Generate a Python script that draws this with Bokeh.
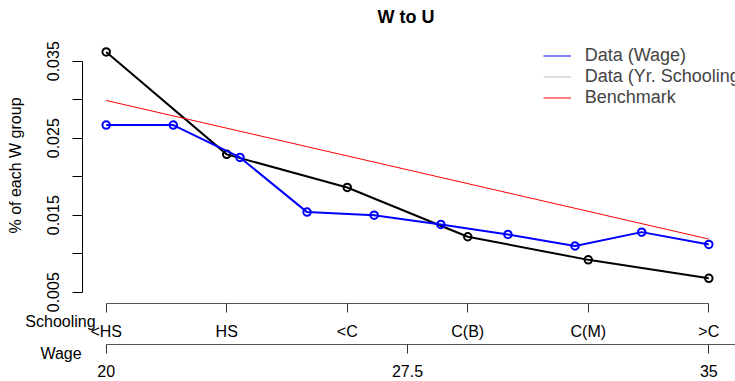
from bokeh.plotting import figure
from bokeh.models import (LinearAxis, FixedTicker, Range1d, Legend, LegendItem, Label)
from bokeh.embed import file_html
from bokeh.resources import INLINE

# ---------------- data ----------------
schooling_levels = ["<HS", "HS", "<C", "C(B)", "C(M)", ">C"]
schooling_pos = [20, 23, 26, 29, 32, 35]          # where each level sits on the wage scale
schooling_share = [0.0362, 0.0229, 0.0186, 0.0122, 0.0092, 0.0068]

wage = [20, 21.67, 23.33, 25, 26.67, 28.33, 30, 31.67, 33.33, 35]
wage_share = [0.0267, 0.0267, 0.0225, 0.0154, 0.0150, 0.0138, 0.0125, 0.0110, 0.0128, 0.0112]

bench_wage = [20, 35]
bench_share = [0.0299, 0.0119]

wage_ticks = [20, 27.5, 35]
wage_tick_labels = ["20", "27.5", "35"]
y_ticks = [0.005, 0.010, 0.015, 0.020, 0.025, 0.030, 0.035]
y_tick_labels = ["0.005", "", "0.015", "", "0.025", "", "0.035"]

FONT = "Liberation Sans"

# ---------------- layout geometry (pixels) ----------------
W, H, TOP = 735, 381, 30            # plotting frame spans the canvas below the title
XA_PX, XB_PX = 105.7, 708.3          # pixel columns of wage 20 and wage 35
YA_PX, YB_PX = 291.7, 60.7           # pixel rows of share 0.005 and 0.035
xs = (XB_PX - XA_PX) / (wage_ticks[-1] - wage_ticks[0])
ys = (YA_PX - YB_PX) / (y_ticks[-1] - y_ticks[0])


def px2x(px):
    return wage_ticks[0] + (px - XA_PX) / xs


def py2y(py):
    return y_ticks[0] + (YA_PX - py) / ys


p = figure(width=W, height=H, output_backend="svg", toolbar_location=None,
           x_range=Range1d(px2x(0), px2x(W)), y_range=Range1d(py2y(H), py2y(TOP)),
           x_axis_location=None, y_axis_location=None,
           min_border_left=0, min_border_right=0, min_border_top=TOP,
           min_border_bottom=0, title="W to U")
p.grid.visible = False
p.outline_line_color = None
p.background_fill_color = "white"
p.border_fill_color = "white"

p.title.text_font = FONT
p.title.text_font_size = "18px"
p.title.text_font_style = "bold"
p.title.align = "left"
p.title.offset = 377
p.title.standoff = 8
p.title.text_color = "black"

# ---------------- axes ----------------
yax = LinearAxis(ticker=FixedTicker(ticks=y_ticks),
                 major_label_overrides={t: l for t, l in zip(y_ticks, y_tick_labels)},
                 bounds=(y_ticks[0], y_ticks[-1]),
                 fixed_location=px2x(81.7))
yax.major_label_orientation = "vertical"
yax.minor_tick_line_color = None
yax.major_tick_in = 0
yax.major_tick_out = 10
yax.major_label_standoff = 13
yax.axis_line_color = "black"
yax.major_tick_line_color = "black"
yax.major_label_text_font = FONT
yax.major_label_text_font_size = "16px"
yax.major_label_text_color = "black"
p.add_layout(yax, "left")

sax = LinearAxis(ticker=FixedTicker(ticks=schooling_pos),
                 major_label_overrides={t: l for t, l in zip(schooling_pos, schooling_levels)},
                 bounds=(schooling_pos[0], schooling_pos[-1]),
                 fixed_location=py2y(302.5))
wax = LinearAxis(ticker=FixedTicker(ticks=wage_ticks),
                 major_label_overrides={t: l for t, l in zip(wage_ticks, wage_tick_labels)},
                 bounds=(wage_ticks[0], px2x(W + 20)),
                 fixed_location=py2y(343.5))
for ax, standoff in ((sax, 11), (wax, 12)):
    ax.minor_tick_line_color = None
    ax.major_tick_in = 0
    ax.major_tick_out = 9
    ax.major_label_standoff = standoff
    ax.axis_line_color = "#555555"
    ax.major_tick_line_color = "#333333"
    ax.major_label_text_font = FONT
    ax.major_label_text_font_size = "16px"
    ax.major_label_text_color = "black"
    p.add_layout(ax, "below")

# y-axis title (rotated) and the axis names beside each bottom axis
p.add_layout(Label(x=px2x(15.3), y=py2y(165), text="% of each W group",
                   angle=90, angle_units="deg", text_align="center", text_baseline="middle",
                   text_font=FONT, text_font_size="16px", text_color="black"))
for txt, cx, base in (("Schooling", 60, 321), ("Wage", 60.5, 353)):
    p.add_layout(Label(x=px2x(cx), y=py2y(base), text=txt,
                       text_align="center", text_baseline="alphabetic",
                       text_font=FONT, text_font_size="16px", text_color="black"))

# ---------------- data marks ----------------
p.line(schooling_pos, schooling_share, color="black", line_width=2)
p.scatter(schooling_pos, schooling_share, marker="circle", size=7.5, fill_color=None,
          line_color="black", line_width=2)

p.line(wage, wage_share, color="blue", line_width=2)
p.scatter(wage, wage_share, marker="circle", size=7.5, fill_color=None,
          line_color="blue", line_width=2)

bench = p.line(bench_wage, bench_share, color="red", line_width=1)

# legend key renderers (thin lines as in the reference legend; a single point draws nothing)
leg_wage = p.line(wage[:1], wage_share[:1], color="blue", line_width=1)
leg_school = p.line(schooling_pos[:1], schooling_share[:1], color="#d3d3d3", line_width=1.5)

legend = Legend(items=[LegendItem(label="Data (Wage)", renderers=[leg_wage]),
                       LegendItem(label="Data (Yr. Schooling)", renderers=[leg_school]),
                       LegendItem(label="Benchmark", renderers=[bench])],
                location=(542.7, H - 107.8), orientation="vertical",
                border_line_color=None, background_fill_alpha=0,
                label_text_font=FONT, label_text_font_size="18px",
                glyph_width=28, glyph_height=21, label_height=21,
                spacing=0, padding=0, margin=0, label_standoff=14)
p.add_layout(legend, "center")

open("out.html", "w").write(file_html(p, INLINE))
